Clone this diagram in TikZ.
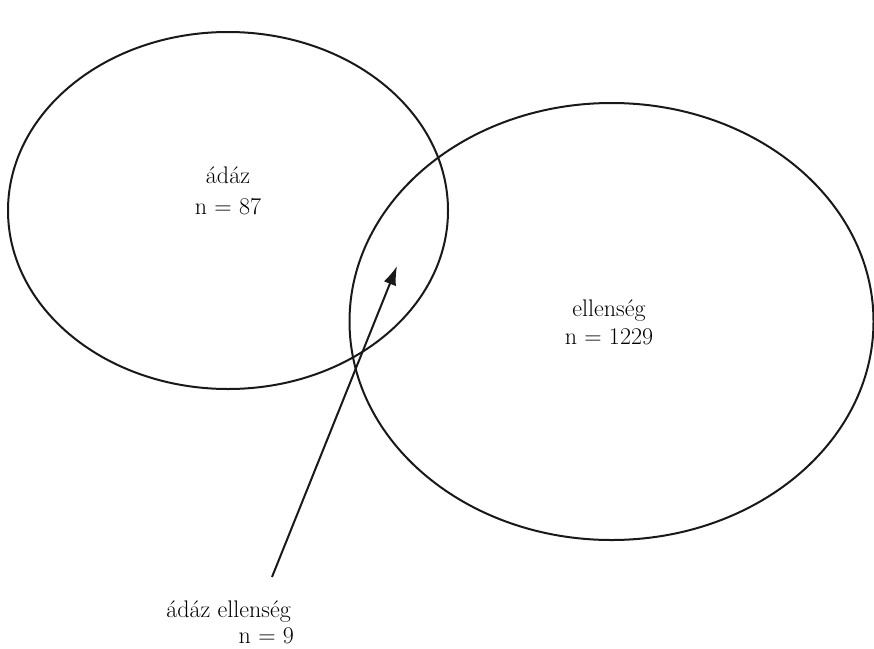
\documentclass[tikz,border=0pt]{standalone}
\usetikzlibrary{arrows.meta}
\begin{document}
\begin{tikzpicture}[x=1pt,y=-1pt,
  circ/.style={draw=black!90, line width=2pt},
  lbl/.style={font=\fontsize{24}{28}\selectfont, inner sep=0pt, anchor=base},
  lblr/.style={font=\fontsize{24}{28}\selectfont, inner sep=0pt, anchor=base east},
  pointer/.style={draw=black!90, line width=2pt, -{Latex[length=19pt,width=13pt]}}]
\useasboundingbox (0,0) rectangle (874,648);
\draw[circ] (228,210.5) ellipse [x radius=220, y radius=178.5];
\draw[circ] (611.5,321.5) ellipse [x radius=262, y radius=218.5];
\node[lbl] (a1) at (228,183) {ádáz};
\node[lbl] (a2) at (228,214) {n = 87};
\node[lbl] (b1) at (609,316) {ellenség};
\node[lbl] (b2) at (609,344) {n = 1229};
\node[lblr] (c1) at (291,617) {ádáz ellenség};
\node[lblr] (c2) at (294,643) {n = 9};
\coordinate (s) at (272,577);
\coordinate (t) at (397,266);
\draw[pointer] (s) -- (t);
\end{tikzpicture}
\end{document}
